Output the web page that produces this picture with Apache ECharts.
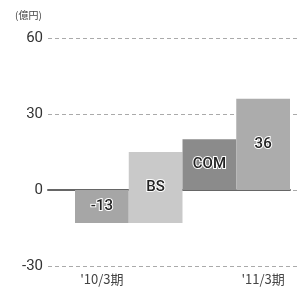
<html>
<head>
<meta charset="utf-8">
<script src="https://cdn.jsdelivr.net/npm/echarts@6/dist/echarts.min.js"></script>
</head>
<body style="margin:0">
<div id="chart1" style="width:304px;height:287px"></div>
<script>
  // 数据
  let categories = ["'10/3期", "BS", "COM", "'11/3期"];
  let barStart = [0, -13, 0, 0];
  let barEnd = [-13, 15, 20, 36];
  let barLabels = ["-13", "BS", "COM", "36"];
  let barColors = ["#a6a6a6", "#c9c9c9", "#8b8b8b", "#acacac"];
  let yTicks = [-30, 0, 30, 60];

  let yMin = yTicks[0], yMax = yTicks[yTicks.length - 1];
  let gridTop = 38, gridBottom = 21;

  let baseData = [];
  let valueData = [];
  for (let i = 0; i < categories.length; i++) {
    baseData.push(barStart[i]);
    valueData.push({
      value: barEnd[i] - barStart[i],
      itemStyle: { color: barColors[i] },
      label: { formatter: barLabels[i] }
    });
  }

  let myChart = echarts.init(document.getElementById('chart1'));
  let option = {
    animation: false,
    graphic: [{
      type: 'text', left: 15, top: 10,
      style: { text: '(億円)', fontSize: 10, fill: '#444', fontFamily: 'Noto Sans CJK JP' }
    }],
    grid: [
      { left: 48, right: 5, top: gridTop, bottom: gridBottom },
      { left: 75, right: 14, top: gridTop, bottom: gridBottom },
      { left: 48, right: 14, top: gridTop, bottom: gridBottom }
    ],
    xAxis: [
      { type: 'category', gridIndex: 0, show: false, data: [''] },
      {
        type: 'category', gridIndex: 1, data: categories,
        axisLine: { show: false }, axisTick: { show: false },
        position: 'bottom',
        axisLabel: {
          interval: 0, margin: 7, fontSize: 13, color: '#444', fontFamily: 'Noto Sans CJK JP',
          formatter: function (v, i) { return (i === 0 || i === categories.length - 1) ? v : ''; }
        }
      },
      {
        type: 'category', gridIndex: 2, data: [''],
        axisLine: { onZero: true, lineStyle: { color: '#666', width: 2 } },
        axisTick: { show: false }, axisLabel: { show: false }
      }
    ],
    yAxis: [
      {
        type: 'value', gridIndex: 0, min: yMin, max: yMax, interval: 30,
        axisLine: { show: false }, axisTick: { show: false },
        axisLabel: { fontSize: 15, color: '#333', margin: 5, fontFamily: 'Roboto' },
        splitLine: {
          lineStyle: { type: [4, 3], color: '#aaa' }
        }
      },
      { type: 'value', gridIndex: 1, min: yMin, max: yMax, show: false },
      { type: 'value', gridIndex: 2, min: yMin, max: yMax, show: false }
    ],
    series: [
      {
        type: 'bar', xAxisIndex: 1, yAxisIndex: 1, stack: 'w', stackStrategy: 'all',
        barWidth: '100%', itemStyle: { color: 'transparent' }, data: baseData
      },
      {
        type: 'bar', xAxisIndex: 1, yAxisIndex: 1, stack: 'w', stackStrategy: 'all',
        barWidth: '100%', data: valueData,
        label: {
          show: true, position: 'inside', fontSize: 15, fontWeight: 500,
          color: '#222', textBorderColor: '#fff', textBorderWidth: 2,
          fontFamily: 'Roboto'
        }
      },
      { type: 'line', xAxisIndex: 2, yAxisIndex: 2, data: [] }
    ]
  };
  myChart.setOption(option);
</script>
</body>
</html>
